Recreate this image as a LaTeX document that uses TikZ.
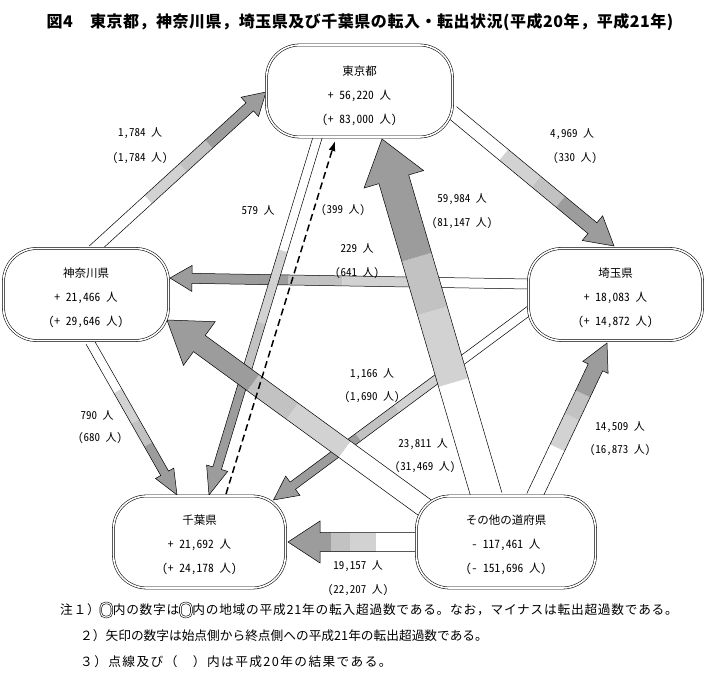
\documentclass[tikz,border=0pt]{standalone}
\usepackage{fontspec}
\newfontfamily\jp{Noto Sans CJK JP}
\newfontfamily\jpt{Noto Sans CJK JP}[LetterSpace=3.3]
\newfontfamily\jpa{Noto Sans CJK JP}[LetterSpace=6.0]
\newfontfamily\jpc{Noto Sans CJK JP}[LetterSpace=11.0]
\newfontfamily\jph{Noto Sans CJK JP}[RawFeature=+hwid]
\usetikzlibrary{calc,arrows.meta}
\definecolor{bandA}{HTML}{D2D2D2}
\definecolor{bandB}{HTML}{C2C2C2}
\definecolor{bandC}{HTML}{9C9C9C}
% block arrow: #1 tail, #2 tip, #3 half shaft width, #4 half head width, #5 head length
\newcommand{\barrow}[5]{%
  \coordinate (bA) at (#1);
  \coordinate (bB) at (#2);
  \coordinate (bH) at ($(bB)!#5!(bA)$);
  \coordinate (bF1) at ($(bA)!0.32!(bB)$);
  \coordinate (bF2) at ($(bA)!0.52!(bB)$);
  \coordinate (bF3) at ($(bA)!0.67!(bB)$);
  \coordinate (bAl) at ($(bA)!#3!90:(bB)$);
  \coordinate (bAr) at ($(bA)!#3!-90:(bB)$);
  \coordinate (bF1l) at ($(bF1)!#3!90:(bB)$);
  \coordinate (bF1r) at ($(bF1)!#3!-90:(bB)$);
  \coordinate (bF2l) at ($(bF2)!#3!90:(bB)$);
  \coordinate (bF2r) at ($(bF2)!#3!-90:(bB)$);
  \coordinate (bF3l) at ($(bF3)!#3!90:(bB)$);
  \coordinate (bF3r) at ($(bF3)!#3!-90:(bB)$);
  \coordinate (bHl) at ($(bH)!#3!90:(bB)$);
  \coordinate (bHr) at ($(bH)!#3!-90:(bB)$);
  \coordinate (bHL) at ($(bH)!#4!90:(bB)$);
  \coordinate (bHR) at ($(bH)!#4!-90:(bB)$);
  \fill[white] (bAl) -- (bF1l) -- (bF1r) -- (bAr) -- cycle;
  \fill[bandA] (bF1l) -- (bF2l) -- (bF2r) -- (bF1r) -- cycle;
  \fill[bandB] (bF2l) -- (bF3l) -- (bF3r) -- (bF2r) -- cycle;
  \fill[bandC] (bF3l) -- (bHl) -- (bHL) -- (bB) -- (bHR) -- (bHr) -- (bF3r) -- cycle;
  \draw[arrline] (bAl) -- (bHl) -- (bHL) -- (bB) -- (bHR) -- (bHr) -- (bAr);
}
\begin{document}
\begin{tikzpicture}[x=1pt,y=-1pt,
  region/.style={draw=black, double=white, double distance=1.6pt, line width=0.55pt,
    rounded corners=33pt, fill=white, minimum height=92pt, inner sep=0pt},
  boxtxt/.style={font=\jph\fontsize{11.5}{24}\selectfont, align=center, inner sep=0pt},
  lbl/.style={font=\jph\fontsize{11}{13}\selectfont, inner sep=0pt},
  note/.style={font=\jpa\fontsize{12.7}{14}\selectfont, inner sep=0pt, anchor=west},
  icon/.style={draw=black, double=white, double distance=1.1pt, line width=0.6pt,
    rounded corners=4.5pt, minimum width=11pt, minimum height=14pt, inner sep=0pt, anchor=west},
  arrline/.style={draw=black, line width=0.5pt, line join=miter},
  dashline/.style={draw=black, line width=1.5pt, dash pattern=on 7pt off 4pt,
    -{Latex[length=10pt,width=7pt]}}
]
\useasboundingbox (0,0) rectangle (707,684);

% title
\node[font=\jpt\bfseries\fontsize{16}{18}\selectfont, inner sep=0pt] (title) at (360,22)
  {図4　東京都，神奈川県，埼玉県及び千葉県の転入・転出状況(平成20年，平成21年)};

% region centres (coordinates for arrows)
\coordinate (tokyoC) at (359.5,91);
\coordinate (kanaC) at (86,294.5);
\coordinate (saitC) at (615.5,294.5);
\coordinate (chibaC) at (199.5,542);
\coordinate (othC) at (506,542);

% arrow end points
\coordinate (a1s) at ($(kanaC)+(7,-44.5)$);
\coordinate (a1t) at ($(tokyoC)+(-93.5,1)$);
\coordinate (a2s) at ($(tokyoC)+(92.5,21)$);
\coordinate (a2t) at ($(saitC)+(-1.5,-48.5)$);
\coordinate (a3s) at ($(othC)+(-19,-45)$);
\coordinate (a3t) at ($(tokyoC)+(22.5,48)$);
\coordinate (a4s) at ($(tokyoC)+(-41.5,45)$);
\coordinate (a4t) at ($(chibaC)+(9.5,-47)$);
\coordinate (a5s) at ($(saitC)+(-86.5,-10.5)$);
\coordinate (a5t) at ($(kanaC)+(84,-16.5)$);
\coordinate (a6s) at ($(othC)+(-78,-32)$);
\coordinate (a6t) at ($(kanaC)+(81,25.5)$);
\coordinate (a7s) at ($(saitC)+(-85.5,15.5)$);
\coordinate (a7t) at ($(chibaC)+(74,-42)$);
\coordinate (a8s) at ($(othC)+(-88,0)$);
\coordinate (a8t) at ($(chibaC)+(88.5,0)$);
\coordinate (a9s) at ($(othC)+(28,-45)$);
\coordinate (a9t) at ($(saitC)+(-8.5,48.5)$);
\coordinate (a10s) at ($(kanaC)+(4,47.5)$);
\coordinate (a10t) at ($(chibaC)+(-22.5,-47)$);
\coordinate (d1s) at ($(chibaC)+(26.5,-48)$);
\coordinate (d1t) at ($(tokyoC)+(-24.5,50)$);

% block arrows
\barrow{a7s}{a7t}{4.5pt}{12pt}{24pt}
\barrow{a5s}{a5t}{5pt}{13pt}{22pt}
\barrow{a4s}{a4t}{4.5pt}{11pt}{28pt}
\barrow{a6s}{a6t}{10pt}{27pt}{40pt}
\barrow{a3s}{a3t}{15.5pt}{31pt}{42pt}
\barrow{a1s}{a1t}{5.5pt}{13pt}{22pt}
\barrow{a2s}{a2t}{7pt}{16pt}{28pt}
\barrow{a8s}{a8t}{9.5pt}{21pt}{32pt}
\barrow{a9s}{a9t}{8pt}{14pt}{27pt}
\barrow{a10s}{a10t}{4.5pt}{10.5pt}{25pt}
\draw[dashline] (d1s) -- (d1t);

% regions
\node[region, minimum width=186pt] (tokyo) at (tokyoC) {};
\node[region, minimum width=165pt] (kanagawa) at (kanaC) {};
\node[region, minimum width=174pt] (saitama) at (saitC) {};
\node[region, minimum width=172pt] (chiba) at (chibaC) {};
\node[region, minimum width=179pt] (others) at (othC) {};

\node[boxtxt] (tokyoT) at ($(tokyo.center)+(0,5)$) {東京都\\+ 56,220 人\\(+ 83,000 人)};
\node[boxtxt] (kanaT) at ($(kanagawa.center)+(0,3)$) {神奈川県\\+ 21,466 人\\(+ 29,646 人)};
\node[boxtxt] (saitT) at ($(saitama.center)+(0,3)$) {埼玉県\\+ 18,083 人\\(+ 14,872 人)};
\node[boxtxt] (chibaT) at ($(chiba.center)+(0,3)$) {千葉県\\+ 21,692 人\\(+ 24,178 人)};
\node[boxtxt] (othT) at ($(others.center)+(0,3)$) {その他の道府県\\- 117,461 人\\(- 151,696 人)};

% arrow labels
\node[lbl] (l1a) at (140,133) {1,784 人};
\node[lbl] (l1b) at (140,158) {(1,784 人)};
\node[lbl] (l2a) at (572,134) {4,969 人};
\node[lbl] (l2b) at (575,158) {(330 人)};
\node[lbl] (l4a) at (258,210) {579 人};
\node[lbl] (l4b) at (343,210) {(399 人)};
\node[lbl] (l3a) at (462,199) {59,984 人};
\node[lbl] (l3b) at (462,223) {(81,147 人)};
\node[lbl] (l5a) at (357,248) {229 人};
\node[lbl] (l5b) at (357,273) {(641 人)};
\node[lbl] (l7a) at (372,374) {1,166 人};
\node[lbl] (l7b) at (372,397) {(1,690 人)};
\node[lbl] (l10a) at (97,415) {790 人};
\node[lbl] (l10b) at (100,438) {(680 人)};
\node[lbl] (l9a) at (620,427) {14,509 人};
\node[lbl] (l9b) at (620,450) {(16,873 人)};
\node[lbl] (l6a) at (423,444) {23,811 人};
\node[lbl] (l6b) at (425,467) {(31,469 人)};
\node[lbl] (l8a) at (358,566) {19,157 人};
\node[lbl] (l8b) at (358,590) {(22,207 人)};

% notes
\node[note] (n1a) at (60,610) {注１）};
\node[icon] (ic1) at ([xshift=0.5pt]n1a.east) {};
\node[note] (n1b) at ([xshift=0.5pt]ic1.east) {内の数字は};
\node[icon] (ic2) at ([xshift=0.5pt]n1b.east) {};
\node[note] (n1c) at ([xshift=0.5pt]ic2.east) {内の地域の平成21年の転入超過数である。なお，マイナスは転出超過数である。};
\node[note, font=\jp\fontsize{12.7}{14}\selectfont] (n2) at (80,636) {２）矢印の数字は始点側から終点側への平成21年の転出超過数である。};
\node[note, font=\jpc\fontsize{12.7}{14}\selectfont] (n3) at (80,662) {３）点線及び（　）内は平成20年の結果である。};
\end{tikzpicture}
\end{document}
